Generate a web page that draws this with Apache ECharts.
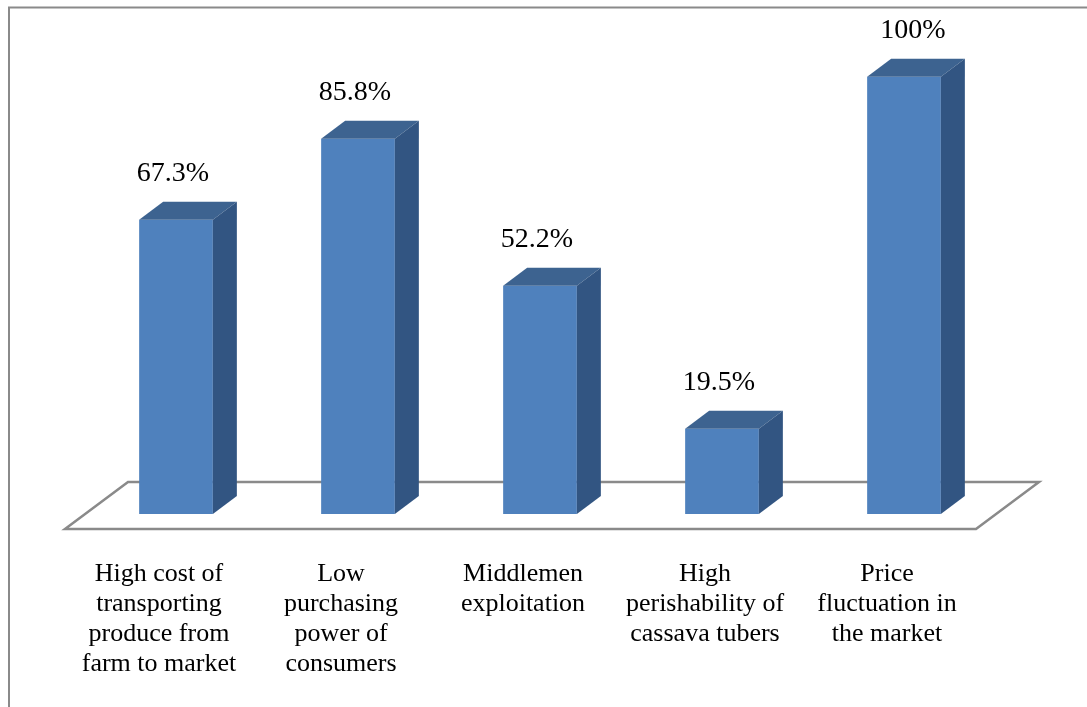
<!DOCTYPE html>
<html>
<head>
<meta charset="utf-8">
<script src="https://cdn.jsdelivr.net/npm/echarts@6/dist/echarts.min.js"></script>
<style>
  html, body { margin: 0; padding: 0; background: #ffffff; }
  #chart { width: 1087px; height: 707px; }
</style>
</head>
<body>
<div id="chart"></div>
<script>
// Marketing constraints faced by cassava farmers (% of respondents)
const categories = [
  'High cost of\ntransporting\nproduce from\nfarm to market',
  'Low\npurchasing\npower of\nconsumers',
  'Middlemen\nexploitation',
  'High\nperishability of\ncassava tubers',
  'Price\nfluctuation in\nthe market'
];
const values = [67.3, 85.8, 52.2, 19.5, 100];

// Styling for the pseudo-3D columns
const FRONT = '#4f81bd';
const TOP = '#3d6390';
const SIDE = '#325582';
const DEPTH_X = 24;
const DEPTH_Y = 18;
const SERIF = '"Liberation Serif", "Times New Roman", serif';
const labelNudge = { 4: 12 };

const chart = echarts.init(document.getElementById('chart'), null, { renderer: 'canvas' });

function renderFloor(params, api) {
  const cs = params.coordSys;
  const left = cs.x, right = cs.x + cs.width, yb = cs.y + cs.height;
  return {
    type: 'polygon',
    shape: {
      points: [
        [left - 20, yb + 15],
        [right - 19, yb + 15],
        [right + 44, yb - 32],
        [left + 43, yb - 32]
      ]
    },
    style: { fill: '#ffffff', stroke: '#8a8a8a', lineWidth: 2.5, lineJoin: 'miter' }
  };
}

function renderBar(params, api) {
  const i = api.value(0);
  const v = api.value(1);
  const base = api.coord([i, 0]);
  const top = api.coord([i, v]);
  const band = api.size([1, 0])[0];
  const w = band * 0.405;
  const x0 = base[0] - w / 2, x1 = base[0] + w / 2;
  const yb = base[1], yt = top[1];
  return {
    type: 'group',
    children: [
      { type: 'rect', shape: { x: x0, y: yt, width: w, height: yb - yt }, style: { fill: FRONT } },
      {
        type: 'polygon',
        shape: { points: [[x0, yt], [x1, yt], [x1 + DEPTH_X, yt - DEPTH_Y], [x0 + DEPTH_X, yt - DEPTH_Y]] },
        style: { fill: TOP }
      },
      {
        type: 'polygon',
        shape: { points: [[x1, yt], [x1 + DEPTH_X, yt - DEPTH_Y], [x1 + DEPTH_X, yb - DEPTH_Y], [x1, yb]] },
        style: { fill: SIDE }
      },
      {
        type: 'text',
        style: {
          text: v + '%',
          x: base[0] - 3 + (labelNudge[params.dataIndex] || 0),
          y: yt - 46,
          align: 'center',
          verticalAlign: 'middle',
          font: '28px ' + SERIF,
          fill: '#000000'
        }
      }
    ]
  };
}

chart.setOption({
  backgroundColor: '#ffffff',
  animation: false,
  grid: { left: 85, right: 92, top: 76.7, bottom: 193 },
  xAxis: {
    type: 'category',
    data: categories,
    axisLine: { show: false },
    axisTick: { show: false },
    splitLine: { show: false },
    axisLabel: {
      interval: 0,
      margin: 45,
      color: '#000000',
      fontFamily: SERIF,
      fontSize: 26,
      lineHeight: 30,
      align: 'center',
      padding: [0, 34, 0, 0]
    }
  },
  yAxis: { type: 'value', min: 0, max: 100, show: false },
  graphic: [
    {
      type: 'polyline',
      silent: true,
      shape: { points: [[9, 707], [9, 7.5], [1087, 7.5]] },
      style: { stroke: '#8a8a8a', lineWidth: 2, fill: null }
    }
  ],
  series: [
    {
      type: 'custom',
      name: 'floor',
      renderItem: renderFloor,
      data: [[0, 0]],
      z: 1,
      silent: true
    },
    {
      type: 'custom',
      name: 'share',
      renderItem: renderBar,
      data: values.map((v, i) => [i, v]),
      z: 2
    }
  ]
});
</script>
</body>
</html>
